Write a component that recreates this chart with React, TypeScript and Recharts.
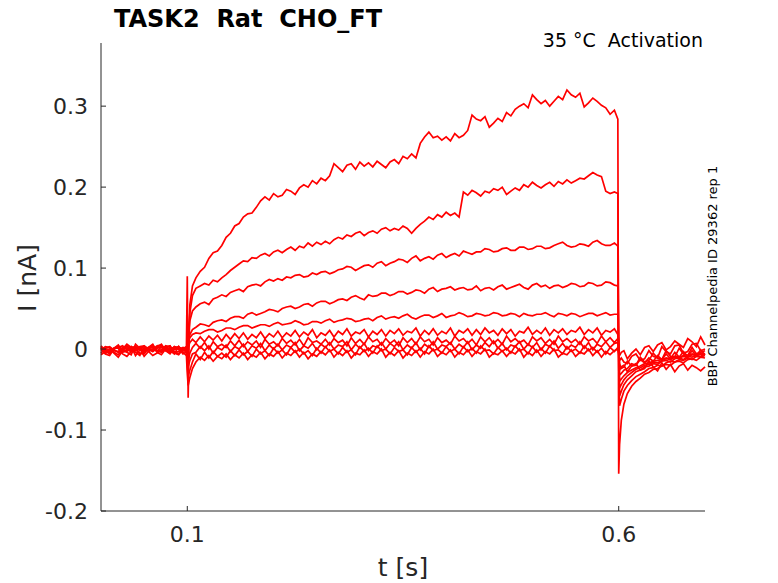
import { Line, LineChart, XAxis, YAxis } from "recharts";

// sample times in seconds
const TIME = [
  0, 0.005, 0.01, 0.015, 0.02, 0.025, 0.03, 0.035, 0.04, 0.045,
  0.05, 0.055, 0.06, 0.065, 0.07, 0.075, 0.08, 0.085, 0.09, 0.095,
  0.099,
  0.1, 0.101, 0.103, 0.106,
  0.11, 0.115, 0.12, 0.125, 0.13, 0.135, 0.14, 0.145, 0.15, 0.155,
  0.16, 0.165, 0.17, 0.175, 0.18, 0.185, 0.19, 0.195, 0.2, 0.205,
  0.21, 0.215, 0.22, 0.225, 0.23, 0.235, 0.24, 0.245, 0.25, 0.255,
  0.26, 0.265, 0.27, 0.275, 0.28, 0.285, 0.29, 0.295, 0.3, 0.305,
  0.31, 0.315, 0.32, 0.325, 0.33, 0.335, 0.34, 0.345, 0.35, 0.355,
  0.36, 0.365, 0.37, 0.375, 0.38, 0.385, 0.39, 0.395, 0.4, 0.405,
  0.41, 0.415, 0.42, 0.425, 0.43, 0.435, 0.44, 0.445, 0.45, 0.455,
  0.46, 0.465, 0.47, 0.475, 0.48, 0.485, 0.49, 0.495, 0.5, 0.505,
  0.51, 0.515, 0.52, 0.525, 0.53, 0.535, 0.54, 0.545, 0.55, 0.555,
  0.56, 0.565, 0.57, 0.575, 0.58, 0.585, 0.59, 0.595,
  0.599, 0.6, 0.601, 0.603, 0.606,
  0.61, 0.615, 0.62, 0.625, 0.63, 0.635, 0.64, 0.645, 0.65, 0.655,
  0.66, 0.665, 0.67, 0.675, 0.68, 0.685, 0.69, 0.695, 0.7,
];

// sweep currents in pA, largest step first
const SWEEP_1 = [
  2, -5, -3, 1, 4, -1, -2, 3, 1, -6,
  -4, 0, 3, -2, -1, 4, 2, -4, -3, 2,
  1,
  90, -60, 55, 78,
  88, 96, 101, 112, 119, 121, 128, 138, 143, 152,
  155, 163, 167, 168, 175, 183, 188, 184, 192, 188,
  190, 197, 195, 191, 199, 203, 200, 208, 204, 211,
  208, 214, 229, 224, 219, 227, 229, 222, 231, 226,
  230, 225, 232, 228, 224, 231, 234, 229, 238, 235,
  241, 236, 254, 262, 268, 261, 263, 258, 262, 257,
  266, 261, 264, 270, 289, 284, 282, 287, 274, 279,
  285, 281, 292, 288, 296, 300, 303, 298, 314, 308,
  303, 307, 300, 306, 312, 308, 320, 314, 311, 316,
  299, 304, 310, 306, 301, 298, 290, 295,
  284, -154, -118, -88, -68,
  -55, -46, -40, -36, -31, -29, -25, -24, -21, -19,
  -20, -16, -15, -17, -13, -12, -14, -10, -11,
];
const SWEEP_2 = [
  -2, 1, 3, -1, -4, 2, 1, -3, -1, 3,
  4, 0, -3, 1, 2, -2, -2, 3, 1, -1,
  -1,
  5, 20, 45, 66,
  75, 78, 81, 79, 85, 83, 88, 92, 97, 101,
  105, 109, 108, 113, 112, 116, 118, 115, 120, 122,
  119, 123, 126, 122, 127, 125, 131, 127, 132, 129,
  133, 130, 135, 138, 136, 141, 139, 143, 145, 140,
  144, 146, 143, 148, 150, 146, 149, 147, 152, 149,
  143, 149, 154, 158, 163, 160, 166, 163, 169, 165,
  168, 163, 194, 190, 196, 193, 189, 195, 193, 198,
  196, 200, 191, 195, 199, 196, 203, 200, 206, 202,
  199, 203, 206, 201, 207, 204, 209, 205, 208, 211,
  210, 214, 218, 215, 213, 195, 192, 194,
  192, -20, -70, -62, -52,
  -45, -39, -34, -31, -28, -24, -23, -20, -21, -17,
  -15, -16, -13, -14, -11, -13, -9, -10, -8,
];
const SWEEP_3 = [
  1, -2, -3, 0, 2, 4, -1, -3, 3, 1,
  -2, 0, 0, -3, 3, 2, -4, -1, 2, 1,
  0,
  3, 15, 35, 47,
  52, 56, 58, 55, 62, 64, 67, 65, 70, 72,
  74, 71, 77, 79, 80, 78, 83, 86, 84, 87,
  85, 89, 88, 91, 92, 89, 90, 94, 92, 95,
  96, 93, 95, 98, 99, 102, 101, 97, 100, 103,
  104, 101, 106, 108, 103, 106, 108, 111, 110, 107,
  112, 115, 109, 112, 114, 111, 116, 118, 113, 116,
  118, 115, 121, 119, 117, 120, 120, 124, 123, 120,
  121, 124, 125, 122, 122, 126, 126, 123, 124, 127,
  127, 124, 125, 128, 130, 132, 128, 126, 127, 130,
  129, 127, 132, 134, 130, 128, 128, 131,
  127, -10, -58, -52, -44,
  -38, -33, -28, -26, -22, -21, -18, -19, -15, -14,
  -16, -12, -11, -13, -9, -10, -8, -9, -6,
];
const SWEEP_4 = [
  -1, 3, 2, -2, -3, 1, 4, 0, -2, 2,
  1, -1, -2, 2, 3, -1, 0, -4, -3, 1,
  2,
  4, 10, 18, 24,
  27, 31, 30, 28, 33, 35, 36, 34, 38, 40,
  40, 38, 43, 45, 42, 44, 46, 49, 48, 46,
  50, 52, 53, 50, 52, 55, 56, 53, 57, 59,
  59, 56, 58, 61, 62, 60, 64, 66, 63, 61,
  67, 65, 66, 69, 69, 66, 68, 71, 71, 68,
  70, 73, 72, 69, 74, 76, 71, 74, 75, 77,
  73, 75, 76, 73, 74, 78, 72, 75, 76, 73,
  77, 79, 74, 76, 78, 80, 76, 74, 79, 81,
  77, 79, 75, 78, 79, 76, 78, 81, 80, 77,
  78, 82, 81, 78, 79, 83, 82, 79,
  78, -5, -48, -44, -38,
  -33, -29, -25, -23, -20, -19, -16, -17, -14, -12,
  -13, -10, -11, -9, -10, -7, -8, -6, -7,
];
const SWEEP_5 = [
  2, 0, -2, 1, 1, -3, -3, 2, 3, 0,
  -1, 2, 2, -2, -4, 0, 1, 2, 0, -1,
  -2,
  2, 8, 14, 18,
  20, 19, 22, 24, 24, 21, 23, 26, 26, 24,
  27, 29, 29, 26, 28, 30, 30, 28, 31, 33,
  30, 31, 32, 35, 33, 30, 31, 34, 34, 32,
  35, 37, 33, 35, 36, 38, 37, 34, 35, 37,
  38, 35, 39, 41, 37, 39, 40, 38, 41, 43,
  39, 37, 40, 42, 42, 39, 41, 44, 39, 41,
  42, 45, 43, 40, 41, 44, 43, 41, 42, 45,
  44, 41, 42, 44, 43, 40, 44, 42, 41, 43,
  43, 45, 42, 40, 44, 43, 41, 44, 43, 40,
  42, 44, 44, 41, 43, 45, 42, 43,
  43, -3, -40, -37, -33,
  -29, -26, -23, -21, -18, -17, -15, -14, -13, -11,
  -12, -9, -10, -8, -9, -6, -7, -5, -6,
];
const SWEEP_6 = [
  3, -2, -6, 1, 5, -4, -2, 3, -8, -1,
  4, 0, -3, 2, 6, -2, -5, 3, 1, -6,
  -4,
  6, 2, 8, 12,
  8, 15, 9, 16, 11, 17, 10, 18, 12, 19,
  13, 20, 12, 18, 14, 21, 13, 19, 15, 22,
  14, 20, 16, 23, 15, 21, 17, 24, 14, 20,
  17, 23, 15, 22, 18, 25, 16, 21, 19, 24,
  15, 22, 18, 24, 16, 23, 19, 25, 17, 22,
  20, 26, 16, 23, 18, 25, 17, 22, 19, 26,
  16, 23, 20, 25, 17, 24, 18, 26, 20, 23,
  17, 25, 19, 24, 16, 22, 20, 27, 18, 23,
  19, 26, 17, 24, 20, 25, 18, 23, 21, 27,
  18, 24, 20, 26, 17, 23, 21, 25,
  18, 10, -32, -30, -26,
  -24, -18, -20, -13, -17, -11, -15, -8, -13, -6,
  -12, -4, -10, -3, -9, -2, -8, -1, -7,
];
const SWEEP_7 = [
  -5, 1, 2, -4, -7, 0, 6, 2, -1, -5,
  -6, 1, 5, -2, -3, 3, 4, -5, -7, 0,
  3,
  -8, -15, -5, 2,
  7, 1, 8, 0, 9, 3, 6, 2, 10, 4,
  11, 3, 9, 5, 10, 2, 12, 6, 9, 4,
  13, 7, 11, 5, 12, 4, 14, 8, 10, 6,
  12, 5, 13, 8, 11, 4, 14, 7, 12, 6,
  15, 9, 12, 5, 13, 7, 11, 4, 14, 8,
  13, 6, 15, 9, 12, 5, 14, 8, 11, 6,
  16, 10, 13, 7, 12, 5, 15, 9, 14, 7,
  12, 6, 16, 9, 13, 8, 11, 5, 15, 10,
  14, 7, 12, 6, 16, 9, 13, 8, 12, 6,
  15, 10, 13, 7, 16, 9, 14, 8,
  13, 4, -26, -22, -20,
  -28, -21, -18, -26, -24, -15, -22, -27, -17, -25,
  -19, -28, -21, -18, -26, -20, -23, -27, -22,
];
const SWEEP_8 = [
  1, -6, -8, 0, 4, -1, -4, -7, 6, 1,
  -9, -3, 0, 4, 5, -2, -6, 1, 3, -4,
  -3,
  -12, -22, -14, -6,
  -4, 3, -2, 4, -5, 2, -1, 5, -3, 3,
  0, 6, -3, 4, 1, 7, -2, 5, 0, 6,
  -1, 5, 2, 8, -2, 4, 1, 7, -1, 6,
  2, 8, 0, 5, 3, 9, -1, 6, 1, 7,
  -2, 4, 2, 8, 0, 7, 3, 9, -1, 5,
  1, 8, -1, 6, 2, 9, 0, 5, 3, 8,
  0, 6, 2, 9, -1, 5, 1, 8, 3, 10,
  1, 7, -1, 5, 3, 9, 0, 6, 2, 8,
  -1, 6, 3, 10, 1, 7, 0, 5, 2, 9,
  1, 8, -1, 6, 3, 9, 2, 7,
  8, -2, -18, -24, -22,
  -15, -21, -20, -10, -16, -14, -5, -11, -13, -2,
  -9, -10, 1, -6, -8, 2, -6, -4, -2,
];
const SWEEP_9 = [
  -7, -3, 0, -5, -10, -2, 3, -1, -4, -8,
  2, -3, -8, -5, -1, 1, 4, -4, -6, 0,
  -2,
  -20, -34, -26, -16,
  -6, -13, -4, -11, -3, -9, -5, -10, -2, -8,
  -1, -7, -3, -9, 0, -6, -2, -8, 1, -5,
  -1, -7, 2, -4, 0, -6, -2, -8, 1, -5,
  3, -3, 0, -6, 2, -4, -1, -7, 3, -3,
  1, -5, 4, -2, 0, -6, 2, -3, -1, -7,
  2, -4, 1, -6, 4, -2, 0, -5, 3, -3,
  0, -6, 3, -3, 1, -5, 4, -2, -1, -6,
  2, -3, 1, -5, 4, -2, 0, -6, 3, -4,
  1, -5, 4, -2, -1, -6, 3, -3, 0, -5,
  4, -2, 2, -4, 1, -6, 2, -3,
  2, -6, -14, -11, -16,
  -18, -9, -6, -14, -12, -2, -9, -11, 3, -3,
  -6, 4, 5, -5, -3, 6, 7, -2, 0,
];
const SWEEP_10 = [
  4, -2, -5, 1, 1, -6, -9, -3, 2, -1,
  -3, 2, 6, -4, -7, 0, -2, -6, 3, -4,
  -8,
  -30, -45, -35, -24,
  -16, -10, -14, -8, -15, -9, -12, -6, -13, -7,
  -11, -5, -13, -7, -10, -4, -12, -6, -9, -3,
  -11, -5, -8, -2, -10, -4, -12, -6, -9, -3,
  -7, -1, -10, -4, -8, -2, -11, -5, -7, -1,
  -9, -3, -6, 0, -10, -4, -8, -2, -11, -5,
  -8, -2, -10, -3, -6, 0, -9, -4, -7, -1,
  -10, -4, -7, -1, -9, -3, -6, 0, -10, -5,
  -7, -2, -9, -3, -6, 0, -10, -4, -8, -1,
  -9, -3, -6, 0, -10, -5, -7, -1, -9, -4,
  -6, 0, -8, -2, -10, -3, -7, -2,
  0, -4, -8, -4, -2,
  -12, -5, 0, -7, 2, 4, -3, 5, 8, -1,
  3, 10, 6, 2, 13, 9, 3, 15, 5,
];

const SWEEPS = [SWEEP_10, SWEEP_9, SWEEP_8, SWEEP_7, SWEEP_6, SWEEP_5, SWEEP_4, SWEEP_3, SWEEP_2, SWEEP_1];
const X_TICKS = [0.1, 0.6];
const Y_TICKS = [-0.2, -0.1, 0, 0.1, 0.2, 0.3];

const rows = TIME.map((t, i) => {
  const row: Record<string, number> = { t };
  SWEEPS.forEach((s, k) => {
    row[`s${k}`] = s[i] / 1000; // pA -> nA
  });
  return row;
});

const FONT = "DejaVu Sans";
const AXIS = "#262626";

export default function App() {
  return (
    <div style={{ position: "absolute", left: 0, top: 0, width: 778, height: 583, background: "#fff" }}>
      <LineChart width={778} height={583} data={rows} margin={{ top: 43, right: 73, bottom: 0, left: 0 }}>
        <XAxis
          dataKey="t"
          type="number"
          domain={[0, 0.7]}
          ticks={X_TICKS}
          height={72}
          tickSize={-5}
          tickMargin={20}
          stroke={AXIS}
          tick={{ fill: AXIS, fontSize: 22, fontFamily: FONT }}
          tickFormatter={(v: number) => String(v)}
        />
        <YAxis
          type="number"
          domain={[-0.2, 0.378]}
          ticks={Y_TICKS}
          width={101}
          tickSize={-5}
          tickMargin={18}
          stroke={AXIS}
          allowDataOverflow
          tick={{ fill: AXIS, fontSize: 22, fontFamily: FONT }}
          tickFormatter={(v: number) => String(v)}
        />
        {SWEEPS.map((_, k) => (
          <Line
            key={k}
            type="linear"
            dataKey={`s${k}`}
            stroke="#ff0000"
            strokeWidth={1.7}
            dot={false}
            activeDot={false}
            isAnimationActive={false}
          />
        ))}
      </LineChart>
      <svg
        width={778}
        height={583}
        style={{ position: "absolute", left: 0, top: 0, pointerEvents: "none" }}
        fontFamily={FONT}
      >
        <text x={114} y={27} fontSize={24} fontWeight="bold" fill="#000" style={{ whiteSpace: "pre" }}>
          TASK2  Rat  CHO_FT
        </text>
        <text x={703} y={47} fontSize={19} textAnchor="end" fill="#000" style={{ whiteSpace: "pre" }}>
          35 °C  Activation
        </text>
        <text x={717} y={276} fontSize={13} textAnchor="middle" fill="#000" transform="rotate(-90 717 276)">
          BBP Channelpedia ID 29362 rep 1
        </text>
        <text x={403} y={576} fontSize={25} textAnchor="middle" fill={AXIS}>
          t [s]
        </text>
        <text x={36} y={278} fontSize={25} textAnchor="middle" fill={AXIS} transform="rotate(-90 36 278)">
          I [nA]
        </text>
      </svg>
    </div>
  );
}
